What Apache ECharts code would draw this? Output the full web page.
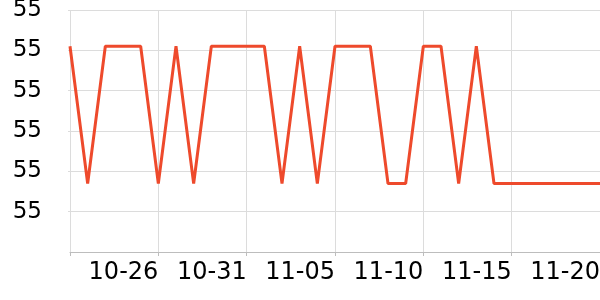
<!DOCTYPE html>
<html>
<head>
<meta charset="utf-8">
<style>html,body{margin:0;padding:0;background:#fff}#c{width:600px;height:300px}</style>
<script src="https://cdn.jsdelivr.net/npm/echarts@6/dist/echarts.min.js"></script>
</head>
<body>
<div id="c"></div>
<script>
var dates = ['10-21','10-22','10-23','10-24','10-25','10-26','10-27','10-28','10-29','10-30',
  '10-31','11-01','11-02','11-03','11-04','11-05','11-06','11-07','11-08','11-09',
  '11-10','11-11','11-12','11-13','11-14','11-15','11-16','11-17','11-18','11-19','11-20'];
var values = [55.31,54.97,55.31,55.31,55.31,54.97,55.31,54.97,55.31,55.31,
  55.31,55.31,54.97,55.31,54.97,55.31,55.31,55.31,54.97,54.97,
  55.31,55.31,54.97,55.31,54.97,54.97,54.97,54.97,54.97,54.97,54.97];
var yMin = 54.8, yMax = 55.4, yStep = 0.1;

var chart = echarts.init(document.getElementById('c'), null, {renderer:'canvas'});
chart.setOption({
  animation: false,
  grid: {left: 70, right: 0, top: 10, bottom: 48, containLabel: false, outerBoundsMode: 'none'},
  xAxis: {
    type: 'category',
    data: dates,
    boundaryGap: false,
    axisLine: {show: true, lineStyle: {color: '#bdbdbd', width: 1}},
    axisTick: {show: true, length: 4, interval: function(i){return i % 5 === 0;}, lineStyle: {color: '#bdbdbd'}},
    splitLine: {show: true, interval: function(i){return i % 5 === 0;}, lineStyle: {color: '#dcdcdc', width: 1}},
    axisLabel: {
      interval: function(i){return i % 5 === 0;},
      formatter: function(v, i){ return i === 0 ? '' : v; },
      align: 'right',
      margin: 9,
      color: '#000',
      fontSize: 24,
      fontFamily: 'DejaVu Sans'
    }
  },
  yAxis: {
    type: 'value',
    min: yMin, max: yMax, interval: yStep,
    axisLine: {show: false},
    axisTick: {show: true, length: 2, lineStyle: {color: '#dcdcdc'}},
    splitLine: {show: true, lineStyle: {color: '#dcdcdc', width: 1}},
    axisLabel: {
      showMinLabel: false,
      formatter: function(v){ return v.toFixed(0); },
      margin: 28,
      color: '#000',
      fontSize: 23,
      fontFamily: 'DejaVu Sans'
    }
  },
  series: [{
    type: 'line',
    data: values,
    symbol: 'none',
    lineStyle: {color: '#ee4a2c', width: 3},
    itemStyle: {color: '#ee4a2c'}
  }]
});
</script>
</body>
</html>
